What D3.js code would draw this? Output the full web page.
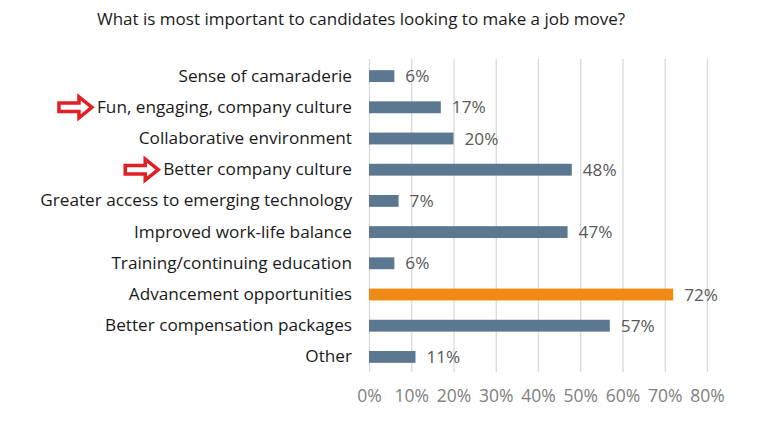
<!DOCTYPE html>
<html><head><meta charset="utf-8">
<script src="https://cdn.jsdelivr.net/npm/d3@7"></script>
<style>body{margin:0;background:#fff}</style>
</head><body>
<svg id="c" width="758" height="425"></svg>
<script>
const title = "What is most important to candidates looking to make a job move?";
const categories = ["Sense of camaraderie","Fun, engaging, company culture","Collaborative environment","Better company culture","Greater access to emerging technology","Improved work-life balance","Training/continuing education","Advancement opportunities","Better compensation packages","Other"];
const values = [6,17,20,48,7,47,6,72,57,11];
const highlighted = ["Advancement opportunities"];
const arrowed = ["Fun, engaging, company culture","Better company culture"];
const tickValues = [0,10,20,30,40,50,60,70,80];

const svg = d3.select("#c");
const font = "'Open Sans', sans-serif";
const fs = 17.2;
const x = d3.scaleLinear().domain([0,80]).range([369,707]);
const y = d3.scaleBand().domain(categories).range([60.5,372.5]).paddingInner(0.62).paddingOuter(0.31);

svg.append("text").attr("x",97).attr("y",25).attr("font-family",font).attr("font-size",17).attr("fill","#1a1a1a").text(title);

// gridlines
svg.append("g").selectAll("line").data(tickValues).join("line")
  .attr("x1",d=>x(d)+0.5).attr("x2",d=>x(d)+0.5).attr("y1",59).attr("y2",372)
  .attr("stroke","#d9d9d9").attr("stroke-width",1.3);

// x axis labels
const ax = svg.append("g").attr("transform","translate(0,396)")
  .call(d3.axisBottom(x).tickValues(tickValues).tickFormat(d=>d+"%").tickSize(0).tickPadding(0));
ax.select(".domain").remove();
ax.selectAll("text").attr("font-family",font).attr("font-size",17.5).attr("fill","#7f7f7f").attr("dy","0.35em");

// bars
svg.append("g").selectAll("rect").data(categories).join("rect")
  .attr("x",x(0)).attr("y",d=>y(d)).attr("height",y.bandwidth())
  .attr("width",(d,i)=>x(values[i])-x(0))
  .attr("fill",d=>highlighted.includes(d)?"#ef8a14":"#5b7890");

// value labels
svg.append("g").selectAll("text").data(categories).join("text")
  .attr("x",(d,i)=>x(values[i])+11).attr("y",d=>y(d)+y.bandwidth()/2).attr("dy","0.35em")
  .attr("font-family",font).attr("font-size",fs).attr("fill","#595959")
  .text((d,i)=>values[i]+"%");

// category labels
const yl = svg.append("g").attr("transform","translate(352,0)")
  .call(d3.axisLeft(y).tickSize(0).tickPadding(0));
yl.select(".domain").remove();
yl.selectAll("text").attr("font-family",font).attr("font-size",fs).attr("fill","#1a1a1a");

// arrows
const tmp = svg.append("text").attr("font-family",font).attr("font-size",fs).attr("visibility","hidden");
arrowed.forEach(c=>{
  tmp.text(c);
  const w = tmp.node().getComputedTextLength();
  const tipX = 352 - w - 5;
  const cy = y(c)+y.bandwidth()/2;
  const L = 33, H = 13;
  const p = [[tipX,cy],[tipX-H,cy-10.5],[tipX-H,cy-4.3],[tipX-L,cy-4.3],[tipX-L,cy+4.3],[tipX-H,cy+4.3],[tipX-H,cy+10.5]];
  svg.append("path").attr("d","M"+p.join("L")+"Z").attr("fill","#fff").attr("stroke","#e31f26").attr("stroke-width",3.5).attr("stroke-linejoin","miter");
});
tmp.remove();
</script>
</body></html>
